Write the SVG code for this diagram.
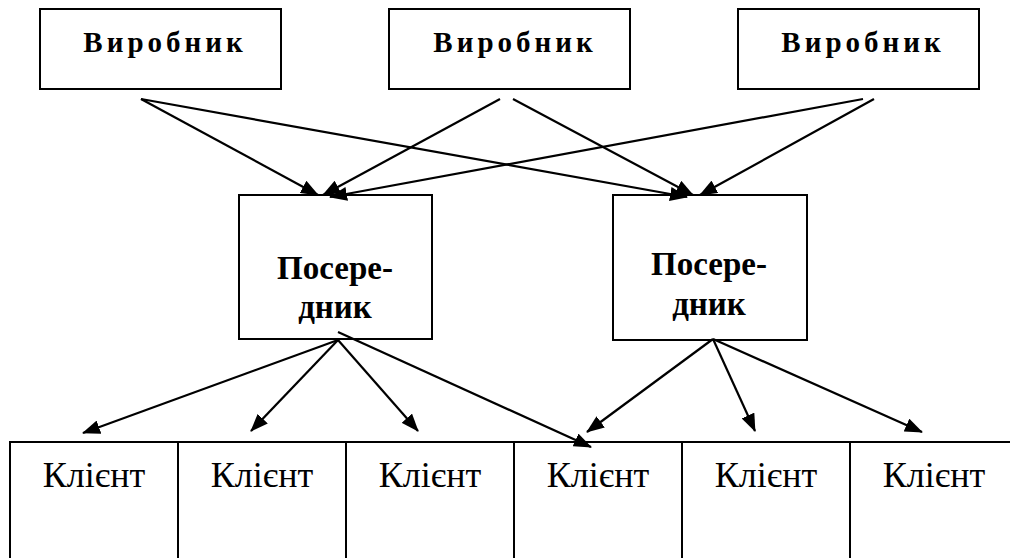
<svg xmlns="http://www.w3.org/2000/svg" width="1010" height="558" viewBox="0 0 1010 558">
<style>
.box{fill:#fff;stroke:#000;stroke-width:2}
.cell{fill:#fff;stroke:#000;stroke-width:2}
.prod{font-family:"Liberation Serif","Times New Roman",serif;font-weight:bold;font-size:29px;letter-spacing:4px;text-anchor:middle}
.mid{font-family:"Liberation Serif","Times New Roman",serif;font-weight:bold;font-size:33px;text-anchor:middle}
.cli{font-family:"Liberation Serif","Times New Roman",serif;font-size:36px;text-anchor:middle}
.con line{stroke:#000;stroke-width:2.2;marker-end:url(#ah)}
</style>
<defs>
<marker id="ah" viewBox="0 0 18 14" refX="17" refY="7" markerWidth="18" markerHeight="14" orient="auto" markerUnits="userSpaceOnUse">
<path d="M0,0 L18,7 L0,14 z" fill="#000"/>
</marker>
</defs>
<rect width="1010" height="558" fill="#fff"/>
<g id="producer1"><rect class="box" x="40" y="9" width="241" height="80"/><text class="prod" x="165" y="52">Виробник</text></g>
<g id="producer2"><rect class="box" x="389" y="9" width="241" height="80"/><text class="prod" x="515" y="52">Виробник</text></g>
<g id="producer3"><rect class="box" x="738" y="9" width="241" height="80"/><text class="prod" x="863" y="52">Виробник</text></g>
<g id="intermediary1"><rect class="box" x="239" y="195" width="193" height="144"/><text class="mid" x="335" y="279">Посере-</text><text class="mid" x="335" y="318">дник</text></g>
<g id="intermediary2"><rect class="box" x="613" y="195" width="194" height="145"/><text class="mid" x="709" y="275">Посере-</text><text class="mid" x="709" y="315">дник</text></g>
<g id="client1"><rect class="cell" x="10" y="442" width="168" height="130"/><text class="cli" x="94" y="487">Клієнт</text></g>
<g id="client2"><rect class="cell" x="178" y="442" width="168" height="130"/><text class="cli" x="262" y="487">Клієнт</text></g>
<g id="client3"><rect class="cell" x="346" y="442" width="168" height="130"/><text class="cli" x="430" y="487">Клієнт</text></g>
<g id="client4"><rect class="cell" x="514" y="442" width="168" height="130"/><text class="cli" x="598" y="487">Клієнт</text></g>
<g id="client5"><rect class="cell" x="682" y="442" width="168" height="130"/><text class="cli" x="766" y="487">Клієнт</text></g>
<g id="client6"><rect class="cell" x="850" y="442" width="168" height="130"/><text class="cli" x="934" y="487">Клієнт</text></g>
<g id="connectors" class="con">
<line x1="141" y1="99" x2="318" y2="195"/>
<line x1="141" y1="99" x2="687" y2="197"/>
<line x1="500" y1="99" x2="323" y2="195"/>
<line x1="513" y1="99" x2="693" y2="195"/>
<line x1="863" y1="99" x2="330" y2="197"/>
<line x1="874" y1="99" x2="700" y2="195"/>
<line x1="338" y1="340" x2="83" y2="433"/>
<line x1="338" y1="340" x2="251" y2="431"/>
<line x1="338" y1="340" x2="418" y2="431"/>
<line x1="338" y1="332" x2="591" y2="447"/>
<line x1="713" y1="339" x2="587" y2="432"/>
<line x1="713" y1="339" x2="755" y2="431"/>
<line x1="713" y1="339" x2="922" y2="432"/>
</g>
</svg>
